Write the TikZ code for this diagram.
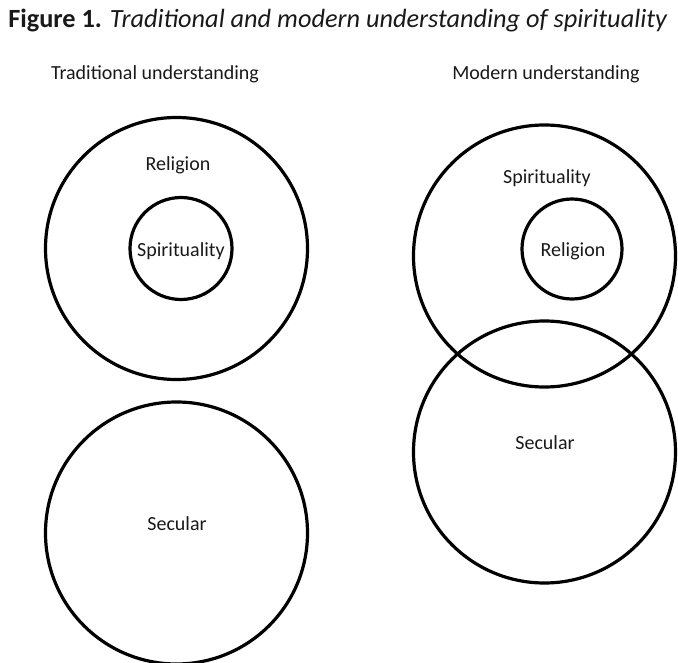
\documentclass[tikz,border=0pt]{standalone}
\usepackage{fontspec}
\setmainfont{Carlito}
\begin{document}
\begin{tikzpicture}[x=1pt,y=-1pt,
  ring/.style={draw=black,line width=3.2pt,circle,inner sep=0pt,minimum size=#1},
  lbl/.style={font=\fontsize{20}{24}\selectfont,text=black!90,inner sep=0pt},
  caption/.style={font=\fontsize{26.3}{30}\selectfont,text=black!90,inner sep=0pt}]
\useasboundingbox (0,0) rectangle (678,663);

% heading and column titles
\node[caption] (title) at (338,21) {\textbf{Figure 1.} \textit{Traditional and modern understanding of spirituality}};
\node[lbl] (tradhead) at (155,74) {Traditional understanding};
\node[lbl] (modhead) at (546,74) {Modern understanding};

% traditional: spirituality inside religion, secular apart
\node[ring=262pt] (trel) at (176.5,248.5) {};
\node[ring=102pt] (tspi) at (181,248.5) {};
\node[ring=262pt] (tsec) at (176.5,533) {};
\node[lbl] (trellbl) at (178,165) {Religion};
\node[lbl] (tspilbl) at (181,251) {Spirituality};
\node[lbl] (tseclbl) at (177,524) {Secular};

% modern: religion inside spirituality, overlapping the secular
\node[ring=262pt] (mspi) at (544.5,256) {};
\node[ring=100pt] (mrel) at (572,249) {};
\node[ring=262pt] (msec) at (544.5,452) {};
\node[lbl] (mspilbl) at (547,178) {Spirituality};
\node[lbl] (mrellbl) at (573,251) {Religion};
\node[lbl] (mseclbl) at (545,443) {Secular};
\end{tikzpicture}
\end{document}
